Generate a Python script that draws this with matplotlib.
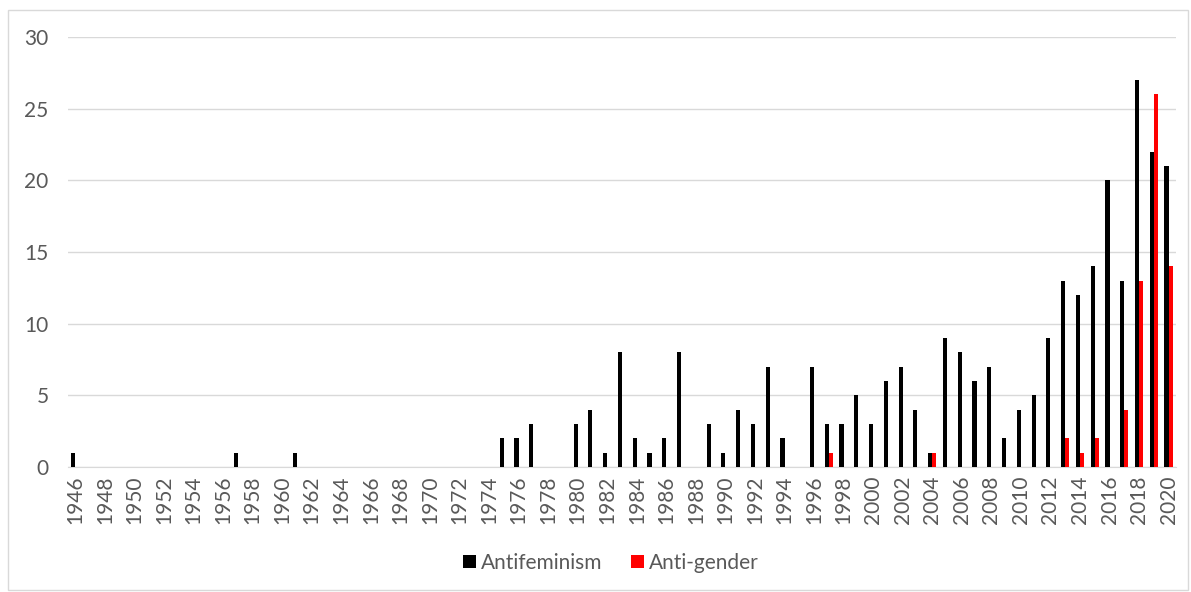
import numpy as np
import matplotlib.pyplot as plt
from matplotlib.patches import Rectangle

plt.rcParams['font.family'] = ['Lato', 'DejaVu Sans']

years = list(range(1946, 2021))

# non-zero counts per year, everything else is 0
antifeminism_counts = {
    1946: 1, 1957: 1, 1961: 1, 1975: 2, 1976: 2, 1977: 3, 1980: 3, 1981: 4,
    1982: 1, 1983: 8, 1984: 2, 1985: 1, 1986: 2, 1987: 8, 1989: 3, 1990: 1,
    1991: 4, 1992: 3, 1993: 7, 1994: 2, 1996: 7, 1997: 3, 1998: 3, 1999: 5,
    2000: 3, 2001: 6, 2002: 7, 2003: 4, 2004: 1, 2005: 9, 2006: 8, 2007: 6,
    2008: 7, 2009: 2, 2010: 4, 2011: 5, 2012: 9, 2013: 13, 2014: 12, 2015: 14,
    2016: 20, 2017: 13, 2018: 27, 2019: 22, 2020: 21,
}
antigender_counts = {
    1997: 1, 2004: 1, 2013: 2, 2014: 1, 2015: 2, 2017: 4, 2018: 13,
    2019: 26, 2020: 14,
}

antifeminism = [antifeminism_counts.get(y, 0) for y in years]
antigender = [antigender_counts.get(y, 0) for y in years]
tick_labels = [str(y) for y in years[::2]]

grey = '#595959'
grid = '#d9d9d9'

fig = plt.figure(figsize=(11.91, 5.92), dpi=100)
ax = fig.add_axes([68 / 1191, 1 - 467 / 592, (1176 - 68) / 1191, (467 - 37) / 592])

x = np.arange(len(years))
w = 0.28
ax.bar(x - w / 2, antifeminism, width=w, color='black', label='Antifeminism', zorder=3)
ax.bar(x + w / 2, antigender, width=w, color='#ff0000', label='Anti-gender', zorder=3)

ax.set_xlim(-0.5, len(years) - 0.5)
ax.set_ylim(0, 30)
ax.set_yticks(range(0, 31, 5))
ax.set_xticks(x[::2])
ax.set_xticklabels(tick_labels, rotation=90)
ax.tick_params(axis='both', length=0, labelsize=15, colors=grey)
ax.tick_params(axis='y', pad=14)
ax.tick_params(axis='x', pad=6)

ax.yaxis.grid(True, color=grid, linewidth=1, zorder=0)
for s in ['top', 'right', 'left']:
    ax.spines[s].set_visible(False)
ax.spines['bottom'].set_color(grid)

leg = fig.legend(loc='center', bbox_to_anchor=(611 / 1191, 1 - 563 / 592), ncol=2,
                 frameon=False, fontsize=15, handlelength=0.6, handleheight=0.6,
                 handletextpad=0.25, columnspacing=1.4)
for t in leg.get_texts():
    t.set_color(grey)

fig.patches.append(Rectangle((8 / 1191, 1 - 590 / 592), 1180 / 1191, 580 / 592,
                             transform=fig.transFigure, fill=False,
                             edgecolor=grid, linewidth=1))

fig.savefig('out.png', dpi=100)
